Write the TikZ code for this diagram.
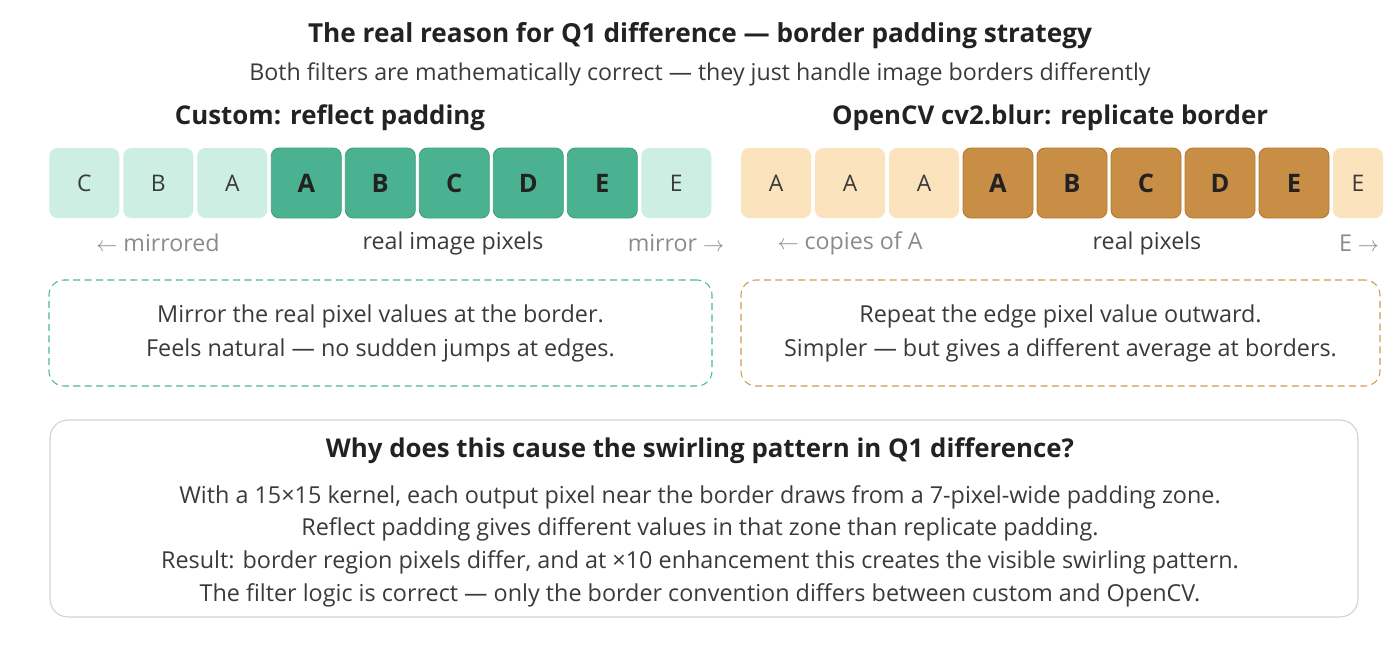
\documentclass[tikz,border=0pt]{standalone}
\usepackage{fontspec}
\setmainfont{Open Sans}
\usepackage{tikz}
\usepackage{xcolor}
\usetikzlibrary{positioning}
\definecolor{greenlt}{HTML}{CDEEE2}
\definecolor{greendk}{HTML}{4AB290}
\definecolor{greenln}{HTML}{3FA07F}
\definecolor{greendash}{HTML}{4DB894}
\definecolor{orangelt}{HTML}{FBE3BD}
\definecolor{orangedk}{HTML}{C98E45}
\definecolor{orangeln}{HTML}{B47A32}
\definecolor{orangedash}{HTML}{CF9A52}
\definecolor{inkdark}{HTML}{222222}
\definecolor{inkmid}{HTML}{3A3A3A}
\definecolor{inkgray}{HTML}{8A8A8A}
\tikzstyle{cell} = [
    rectangle, rounded corners=0.16cm, minimum width=1.4cm, minimum height=1.4cm,
    inner sep=0pt, text centered
]
\tikzstyle{pad-green} = [cell, fill=greenlt, text=inkmid, font=\fontsize{13}{15}\selectfont]
\tikzstyle{real-green} = [cell, fill=greendk, draw=greenln, line width=0.5pt, text=inkdark, font=\fontsize{14.5}{16}\selectfont\bfseries]
\tikzstyle{pad-orange} = [cell, fill=orangelt, text=inkmid, font=\fontsize{13}{15}\selectfont]
\tikzstyle{real-orange} = [cell, fill=orangedk, draw=orangeln, line width=0.5pt, text=inkdark, font=\fontsize{14.5}{16}\selectfont\bfseries]
\tikzstyle{note} = [
    rectangle, rounded corners=0.3cm, dash pattern=on 4pt off 2.5pt, line width=0.6pt, align=center,
    text=inkmid, font=\fontsize{13.3}{19.4}\selectfont
]
\tikzstyle{hint} = [text=inkgray, font=\fontsize{13.2}{15}\selectfont]
\tikzstyle{heading} = [text=inkdark, font=\fontsize{14.7}{17}\selectfont\bfseries]

\begin{document}
\begin{tikzpicture}[node distance=1.48cm]
            \useasboundingbox (0,0) rectangle (28,-13.18);

            \node (title) [text=inkdark, font=\fontsize{14.9}{17}\selectfont\bfseries] at (14,-0.72)
                {The real reason for Q1 difference --- border padding strategy};
            \node (subtitle) [text=inkmid, font=\fontsize{13.2}{15}\selectfont] at (14,-1.48)
                {Both filters are mathematically correct --- they just handle image borders differently};

            \node (headleft) [heading] at (6.6,-2.36) {Custom: reflect padding};
            \node (headright) [heading] at (21.0,-2.36) {OpenCV cv2.blur: replicate border};

            \node (l1) [pad-green] at (1.686,-3.66) {C};
            \node (l2) [pad-green, right of=l1] {B};
            \node (l3) [pad-green, right of=l2] {A};
            \node (l4) [real-green, right of=l3] {A};
            \node (l5) [real-green, right of=l4] {B};
            \node (l6) [real-green, right of=l5] {C};
            \node (l7) [real-green, right of=l6] {D};
            \node (l8) [real-green, right of=l7] {E};
            \node (l9) [pad-green, right of=l8] {E};

            \node (r1) [pad-orange] at (15.52,-3.66) {A};
            \node (r2) [pad-orange, right of=r1] {A};
            \node (r3) [pad-orange, right of=r2] {A};
            \node (r4) [real-orange, right of=r3] {A};
            \node (r5) [real-orange, right of=r4] {B};
            \node (r6) [real-orange, right of=r5] {C};
            \node (r7) [real-orange, right of=r6] {D};
            \node (r8) [real-orange, right of=r7] {E};
            \node (r9) [pad-orange, minimum width=1.0cm] at (27.16,-3.66) {E};

            \node (mirrorleft) [hint] at (3.16,-4.86) {$\leftarrow$ mirrored};
            \node (realleft) [hint, text=inkmid] at (9.06,-4.86) {real image pixels};
            \node (mirrorright) [hint] at (13.52,-4.86) {mirror $\rightarrow$};
            \node (copiesleft) [hint] at (17.0,-4.86) {$\leftarrow$ copies of A};
            \node (realright) [hint, text=inkmid] at (22.94,-4.86) {real pixels};
            \node (copiesright) [hint] at (27.18,-4.86) {E $\rightarrow$};

            \node (noteleft) [note, draw=greendash, minimum width=13.26cm, minimum height=2.12cm]
                at (7.61,-6.66) {Mirror the real pixel values at the border.\\Feels natural --- no sudden jumps at edges.};
            \node (noteright) [note, draw=orangedash, minimum width=12.78cm, minimum height=2.12cm]
                at (21.21,-6.66) {Repeat the edge pixel value outward.\\Simpler --- but gives a different average at borders.};

            \node (whybox) [rectangle, rounded corners=0.36cm, draw=black!18, line width=0.6pt,
                minimum width=26.16cm, minimum height=3.94cm] at (14.08,-10.37) {};
            \node (whytitle) [text=inkdark, font=\fontsize{14.7}{17}\selectfont\bfseries] at (14,-9.02)
                {Why does this cause the swirling pattern in Q1 difference?};
            \node (whytext) [align=center, text=inkmid, font=\fontsize{13.3}{18.6}\selectfont, anchor=north] at (14,-9.58)
                {With a 15×15 kernel, each output pixel near the border draws from a 7-pixel-wide padding zone.\\
                 Reflect padding gives different values in that zone than replicate padding.\\
                 Result: border region pixels differ, and at ×10 enhancement this creates the visible swirling pattern.\\
                 The filter logic is correct --- only the border convention differs between custom and OpenCV.};
        \end{tikzpicture}
\end{document}
